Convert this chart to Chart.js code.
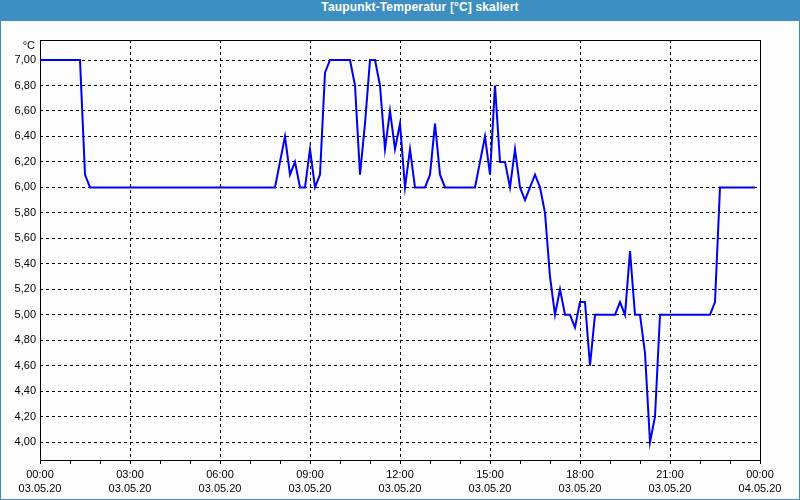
<!DOCTYPE html>
<html>
<head>
<meta charset="utf-8">
<script src="https://cdn.jsdelivr.net/npm/chart.js@4/dist/chart.umd.min.js"></script>
<style>
  html, body { margin: 0; padding: 0; background: #ffffff; }
  #frame { position: absolute; left: 0; top: 0; width: 800px; height: 500px; background: #3d8fc2; }
  #header { position: absolute; left: 0; top: 0; width: 800px; height: 21px; line-height: 21px;
            box-sizing: border-box; padding-left: 40px; text-align: center; color: #ffffff;
            font: bold 12px "Liberation Sans", Arial, sans-serif; letter-spacing: 0.15px; }
  #panel { position: absolute; left: 1px; top: 21px; width: 798px; height: 478px; background: #fcfdfc; }
  #panel canvas { display: block; }
</style>
</head>
<body>
<div id="frame">
  <div id="header">Taupunkt-Temperatur [°C] skaliert</div>
  <div id="panel"><canvas id="c" width="798" height="478"></canvas></div>
</div>
<script>
// ---- data ----
const unitLabel = "°C";
const sampleIntervalMinutes = 10;
const timeTickLabels = ["00:00", "03:00", "06:00", "09:00", "12:00", "15:00", "18:00", "21:00", "00:00"];
const dateTickLabels = ["03.05.20", "03.05.20", "03.05.20", "03.05.20", "03.05.20", "03.05.20", "03.05.20", "03.05.20", "04.05.20"];
const yTickValues = [4.0, 4.2, 4.4, 4.6, 4.8, 5.0, 5.2, 5.4, 5.6, 5.8, 6.0, 6.2, 6.4, 6.6, 6.8, 7.0];
const dewPoint = [
  7.0, 7.0, 7.0, 7.0, 7.0, 7.0, 7.0, 7.0, 7.0,
  6.1,
  6.0, 6.0, 6.0, 6.0, 6.0, 6.0, 6.0, 6.0, 6.0, 6.0,
  6.0, 6.0, 6.0, 6.0, 6.0, 6.0, 6.0, 6.0, 6.0, 6.0,
  6.0, 6.0, 6.0, 6.0, 6.0, 6.0, 6.0, 6.0, 6.0, 6.0,
  6.0, 6.0, 6.0, 6.0, 6.0, 6.0, 6.0, 6.0,
  6.2, 6.4, 6.1, 6.2, 6.0, 6.0, 6.3, 6.0, 6.1, 6.9,
  7.0, 7.0, 7.0, 7.0, 7.0,
  6.8, 6.1, 6.5, 7.0, 7.0, 6.8, 6.3, 6.6, 6.3, 6.5, 6.0, 6.3, 6.0, 6.0, 6.0, 6.1, 6.5, 6.1,
  6.0, 6.0, 6.0, 6.0, 6.0, 6.0, 6.0,
  6.2, 6.4, 6.1, 6.8, 6.2, 6.2, 6.0, 6.3, 6.0, 5.9, 6.0, 6.1, 6.0, 5.8, 5.3, 5.0, 5.2, 5.0, 5.0, 4.9, 5.1, 5.1, 4.6,
  5.0, 5.0, 5.0, 5.0, 5.0,
  5.1, 5.0, 5.5, 5.0, 5.0, 4.7, 4.0, 4.2,
  5.0, 5.0, 5.0, 5.0, 5.0, 5.0, 5.0, 5.0, 5.0, 5.0, 5.0,
  5.1,
  6.0, 6.0, 6.0, 6.0, 6.0, 6.0, 6.0, 6.0
];
const dayMinutes = 1440;
const majorStepMinutes = 180;
const yMin = 3.86;
const yMax = 7.157;

// ---- chart ----
const points = dewPoint.map((v, i) => ({ x: i * sampleIntervalMinutes, y: v }));
const FONT = { family: "'Liberation Sans', Arial, sans-serif", size: 11 };

const framePlugin = {
  id: 'frame',
  beforeDatasetsDraw(chart) {
    const { ctx, chartArea: a } = chart;
    ctx.save();
    ctx.strokeStyle = '#000';
    ctx.lineWidth = 1;
    ctx.setLineDash([]);
    ctx.strokeRect(Math.round(a.left) + 0.5, Math.round(a.top) + 0.5,
                   Math.round(a.right - a.left), Math.round(a.bottom - a.top));
    ctx.restore();
  },
  afterDraw(chart) {
    const { ctx, chartArea: a } = chart;
    ctx.save();
    ctx.fillStyle = '#000';
    ctx.font = "11px 'Liberation Sans', Arial, sans-serif";
    ctx.textAlign = 'right';
    ctx.textBaseline = 'middle';
    ctx.fillText(unitLabel, a.left - 5, a.top + 6);
    ctx.restore();
  }
};

new Chart(document.getElementById('c'), {
  type: 'line',
  data: {
    datasets: [{
      data: points,
      borderColor: '#0000f0',
      borderWidth: 2,
      pointRadius: 0,
      tension: 0,
      fill: false
    }]
  },
  options: {
    responsive: false,
    animation: false,
    events: [],
    layout: { padding: { left: 0, right: 39, top: 19, bottom: 0 } },
    plugins: { legend: { display: false }, tooltip: { enabled: false }, title: { display: false } },
    scales: {
      x: {
        type: 'linear',
        min: 0,
        max: dayMinutes,
        afterFit(scale) { scale.height = 39; },
        ticks: {
          stepSize: 60,
          autoSkip: false,
          maxRotation: 0,
          color: '#000',
          font: { ...FONT, lineHeight: 1.36 },
          padding: 3,
          callback(value) {
            if (value % majorStepMinutes !== 0) return '';
            const i = value / majorStepMinutes;
            return [timeTickLabels[i], dateTickLabels[i]];
          }
        },
        grid: {
          color(ctx) {
            const v = ctx.tick ? ctx.tick.value : 0;
            return (v % majorStepMinutes === 0 && v !== 0 && v !== dayMinutes) ? '#000' : 'rgba(0,0,0,0)';
          },
          tickColor: '#000',
          tickLength: 4,
          lineWidth: 1
        },
        border: { display: false, dash: [3, 3] }
      },
      y: {
        type: 'linear',
        min: yMin,
        max: yMax,
        afterFit(scale) { scale.width = 39; },
        afterBuildTicks(scale) { scale.ticks = yTickValues.map(v => ({ value: v })); },
        ticks: {
          color: '#000',
          font: FONT,
          padding: 4,
          callback(value) { return value.toFixed(2).replace('.', ','); }
        },
        grid: {
          color: '#000',
          lineWidth: 1,
          drawTicks: false
        },
        border: { display: false, dash: [3, 3] }
      }
    }
  },
  plugins: [framePlugin]
});
</script>
</body>
</html>
